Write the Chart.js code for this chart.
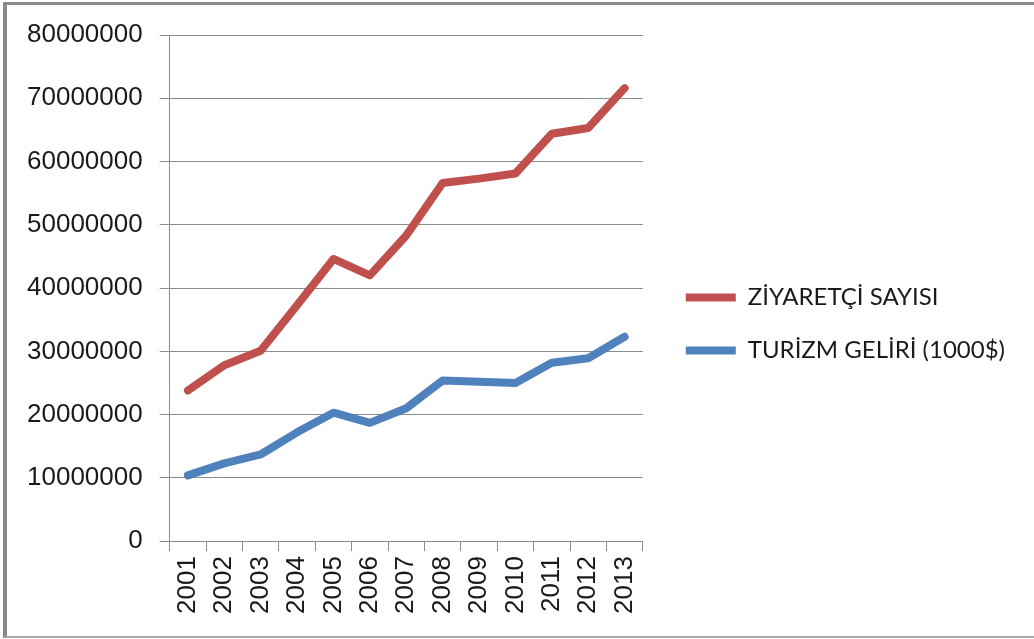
<!DOCTYPE html>
<html>
<head>
<meta charset="utf-8">
<script src="https://cdn.jsdelivr.net/npm/chart.js@4"></script>
<style>
  html, body { margin: 0; padding: 0; background: #fff; }
  #wrap { position: relative; width: 1034px; height: 639px; }
  #frame {
    position: absolute; left: 3px; top: 2px; right: 0; bottom: 1px;
    border-left: 4px solid #8a8a8a; border-top: 3px solid #8a8a8a;
    border-bottom: 2px solid #a8a8a8; pointer-events: none;
  }
</style>
</head>
<body>
<div id="wrap">
  <canvas id="chart" width="1034" height="639"></canvas>
  <div id="frame"></div>
</div>
<script>
// --- DATA ---
const years = ['2001', '2002', '2003', '2004', '2005', '2006', '2007',
               '2008', '2009', '2010', '2011', '2012', '2013'];
const visitors = [23800000, 27800000, 30100000, 37300000, 44600000, 42000000, 48300000,
                  56600000, 57300000, 58100000, 64400000, 65300000, 71600000];
const revenue = [10400000, 12300000, 13700000, 17200000, 20300000, 18700000, 21000000,
                 25400000, 25200000, 25000000, 28200000, 28900000, 32300000];
const seriesNames = ['ZİYARETÇİ SAYISI', 'TURİZM GELİRİ (1000$)'];

const gridGrey = '#8c8c8c';

// legend sits a bit away from the plot, like the original
const legendGap = {
  id: 'legendGap',
  afterLayout(chart) {
    const lg = chart.legend;
    lg.left += 14;
    lg.right += 14;
    lg.top -= 3;
    lg.bottom -= 3;
  }
};

new Chart(document.getElementById('chart'), {
  type: 'line',
  data: {
    labels: years,
    datasets: [
      {
        label: seriesNames[0],
        data: visitors,
        borderColor: '#c0504d',
        backgroundColor: '#c0504d',
        borderWidth: 8,
        borderCapStyle: 'round',
        borderJoinStyle: 'round',
        pointRadius: 0,
        tension: 0
      },
      {
        label: seriesNames[1],
        data: revenue,
        borderColor: '#4f81bd',
        backgroundColor: '#4f81bd',
        borderWidth: 8,
        borderCapStyle: 'round',
        borderJoinStyle: 'round',
        pointRadius: 0,
        tension: 0
      }
    ]
  },
  plugins: [legendGap],
  options: {
    responsive: false,
    animation: false,
    layout: { padding: { left: 10, top: 35, right: 33, bottom: 20 } },
    plugins: {
      tooltip: { enabled: false },
      legend: {
        position: 'right',
        align: 'center',
        maxWidth: 500,
        labels: {
          usePointStyle: true,
          pointStyle: 'line',
          pointStyleWidth: 50,
          padding: 29,
          color: '#1a1a1a',
          font: { family: 'Lato', size: 24 }
        }
      }
    },
    scales: {
      x: {
        offset: true,
        grid: {
          offset: true,
          drawOnChartArea: false,
          drawTicks: true,
          tickLength: 10,
          color: gridGrey
        },
        border: { color: gridGrey, width: 1 },
        ticks: {
          minRotation: 90,
          maxRotation: 90,
          padding: 5,
          color: '#1a1a1a',
          font: { family: 'Liberation Sans', size: 26 }
        }
      },
      y: {
        min: 0,
        max: 80000000,
        grid: { color: gridGrey, tickLength: 10 },
        border: { color: gridGrey, width: 1 },
        ticks: {
          stepSize: 10000000,
          padding: 17,
          color: '#1a1a1a',
          font: { family: 'Liberation Sans', size: 26 },
          callback: v => String(v)
        }
      }
    }
  }
});
</script>
</body>
</html>
